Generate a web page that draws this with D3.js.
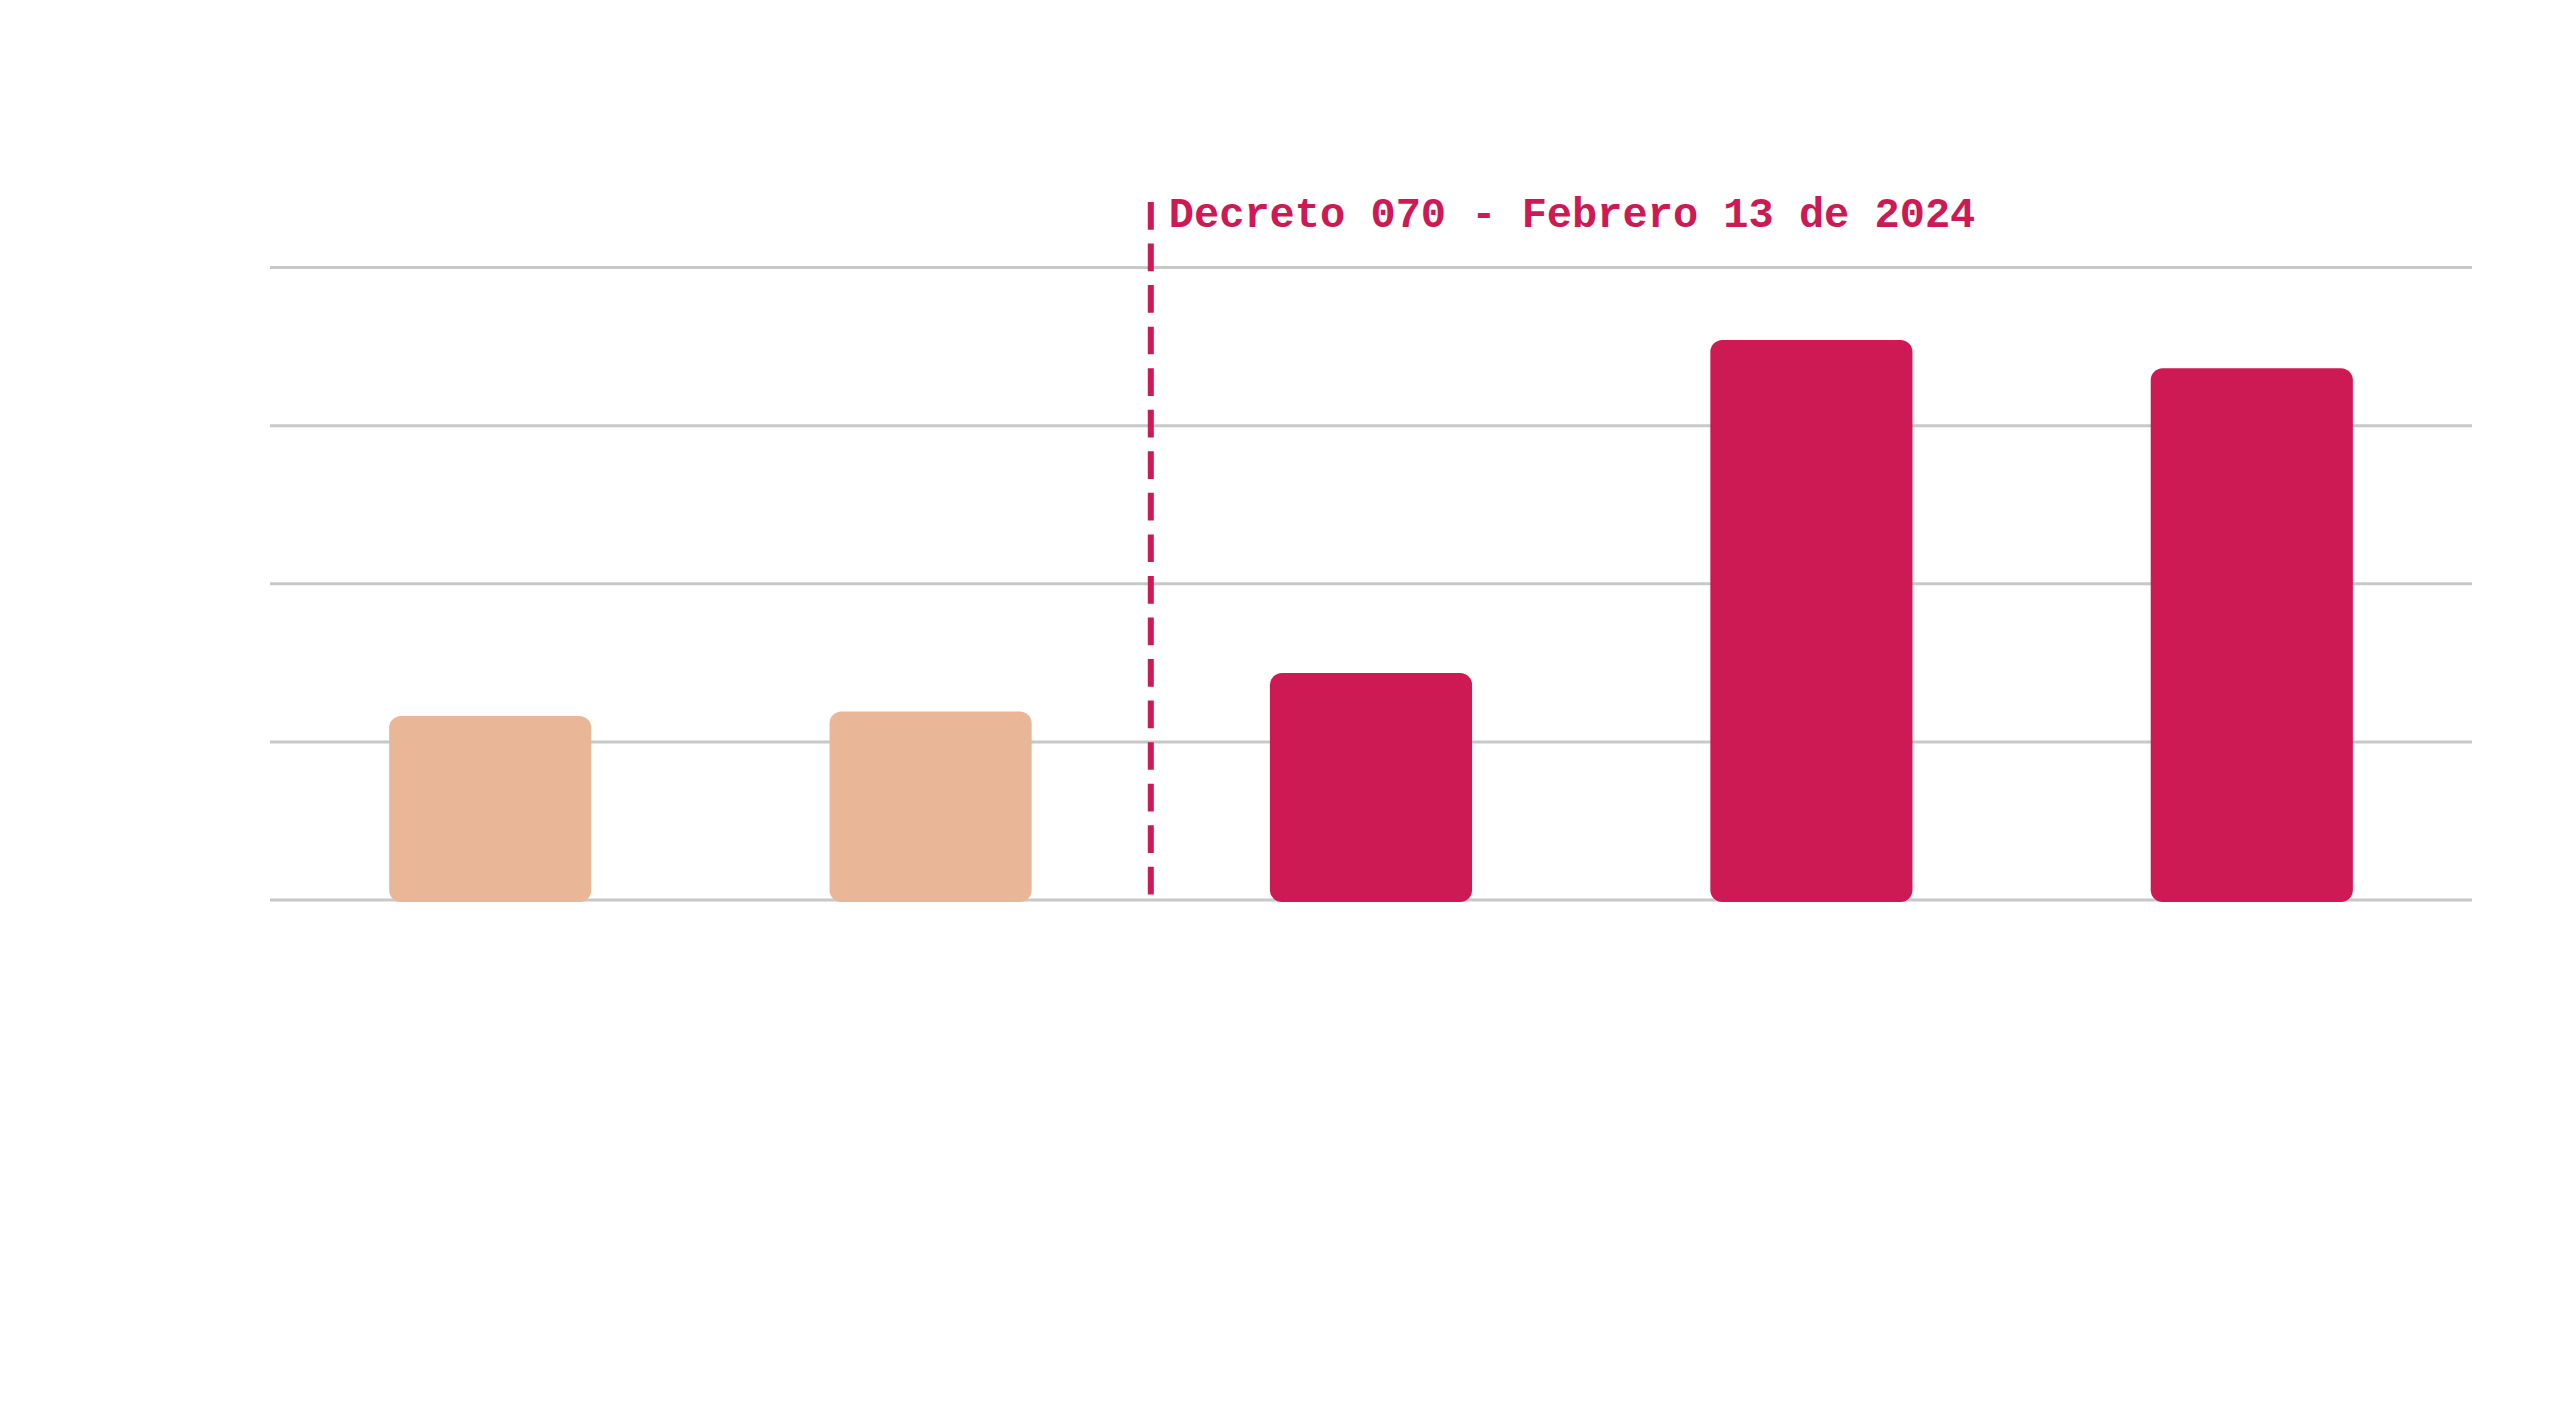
<!DOCTYPE html>
<html>
<head>
<meta charset="utf-8">
<script src="https://cdn.jsdelivr.net/npm/d3@7"></script>
<style>
  html, body { margin: 0; padding: 0; background: #ffffff; }
  svg { display: block; }
</style>
</head>
<body>
<svg id="chart" width="2560" height="1403"></svg>
<script>
// ---- data ----
const categories = ["P1", "P2", "P3", "P4", "P5"];
const values = [58.2, 59.6, 71.8, 177.1, 168.2];
const periods = ["antes", "antes", "despues", "despues", "despues"];
const tickValues = [0, 50, 100, 150, 200];
const annotationText = "Decreto 070 - Febrero 13 de 2024";

// ---- layout ----
const plotLeft = 270, plotRight = 2472, plotTop = 267.6, plotBottom = 900;

const svg = d3.select("#chart");

const x = d3.scaleBand()
  .domain(categories)
  .range([plotLeft, plotRight])
  .paddingInner(0.541)
  .paddingOuter(0.2705);

const y = d3.scaleLinear()
  .domain([0, 200])
  .range([plotBottom, plotTop]);

const color = d3.scaleOrdinal()
  .domain(["antes", "despues"])
  .range(["#E9B697", "#CD1954"]);

// gridlines
svg.append("g")
  .selectAll("line")
  .data(tickValues)
  .join("line")
  .attr("x1", plotLeft)
  .attr("x2", plotRight)
  .attr("y1", d => y(d))
  .attr("y2", d => y(d))
  .attr("stroke", "#c8c8c8")
  .attr("stroke-width", 3);

// bars
svg.append("g")
  .selectAll("rect")
  .data(values)
  .join("rect")
  .attr("x", (d, i) => x(categories[i]))
  .attr("width", x.bandwidth())
  .attr("y", d => y(d))
  .attr("height", d => y(0) - y(d) + 2)
  .attr("rx", 12)
  .attr("ry", 12)
  .attr("fill", (d, i) => color(periods[i]));

// divider between periods
const divX = x(categories[2]) - (x.step() - x.bandwidth()) / 2;
svg.append("line")
  .attr("x1", divX)
  .attr("x2", divX)
  .attr("y1", 202)
  .attr("y2", 895)
  .attr("stroke", "#CD1954")
  .attr("stroke-width", 6)
  .attr("stroke-dasharray", "27.7 13.85");

svg.append("text")
  .attr("x", divX + 18)
  .attr("y", 227)
  .attr("fill", "#CD1954")
  .attr("font-family", "'Liberation Mono', 'Courier New', monospace")
  .attr("font-weight", "bold")
  .attr("font-size", 42)
  .text(annotationText);
</script>
</body>
</html>
